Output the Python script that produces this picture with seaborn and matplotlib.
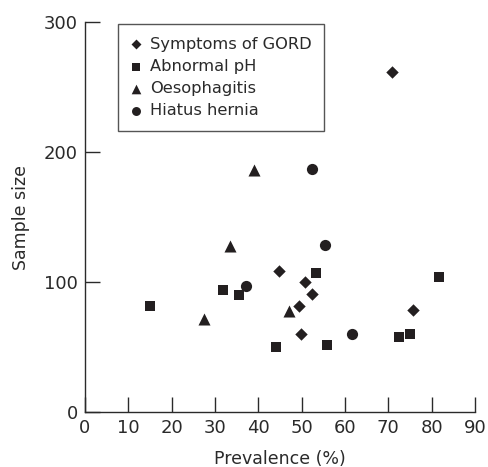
import matplotlib
matplotlib.use("Agg")
import matplotlib.pyplot as plt
import seaborn as sns
import pandas as pd

# Data
gord_x = [70.8, 44.8, 50.8, 52.3, 49.4, 49.8, 75.6]
gord_y = [261.5, 108.7, 100.5, 90.8, 81.8, 60.0, 78.5]

ph_x = [15.0, 31.8, 35.5, 44.1, 53.3, 55.8, 72.5, 74.9, 81.7]
ph_y = [81.8, 94.1, 90.2, 50.5, 107.4, 51.8, 57.9, 60.5, 104.0]

oes_x = [38.9, 33.4, 27.5, 47.1]
oes_y = [186.5, 127.5, 71.5, 78.0]

hh_x = [52.4, 55.3, 37.1, 61.7]
hh_y = [186.9, 128.7, 97.4, 60.0]

labels = ["Symptoms of GORD", "Abnormal pH", "Oesophagitis", "Hiatus hernia"]
x_ticks = [0, 10, 20, 30, 40, 50, 60, 70, 80, 90]
y_ticks = [0, 100, 200, 300]

frames = []
for lab, xs, ys in zip(labels, [gord_x, ph_x, oes_x, hh_x], [gord_y, ph_y, oes_y, hh_y]):
    frames.append(pd.DataFrame({"Prevalence": xs, "Sample": ys, "Group": lab}))
df = pd.concat(frames, ignore_index=True)

sns.set_style("white")
plt.rcParams["font.family"] = ["DejaVu Sans"]
ink = "#231f20"
txt = "#2a2a2a"

fig = plt.figure(figsize=(4.88, 4.67), dpi=100)
ax = fig.add_axes([85 / 488, 1 - 412.3 / 467, 390 / 488, 390.3 / 467])

markers = {labels[0]: "D", labels[1]: "s", labels[2]: "^", labels[3]: "o"}
sizes = {labels[0]: 40, labels[1]: 60, labels[2]: 75, labels[3]: 65}
for lab in labels:
    sub = df[df["Group"] == lab]
    sns.scatterplot(data=sub, x="Prevalence", y="Sample", marker=markers[lab],
                    s=sizes[lab], color=ink, edgecolor=ink, linewidth=0,
                    label=lab, ax=ax, legend=True)

ax.set_xlim(0, 90)
ax.set_ylim(0, 300)
ax.set_xticks(x_ticks)
ax.set_yticks(y_ticks)
ax.tick_params(axis="both", direction="in", length=11, width=1, color=txt,
               labelsize=13, labelcolor=txt, pad=5, left=True, bottom=True)
for side in ["top", "right"]:
    ax.spines[side].set_visible(False)
for side in ["left", "bottom"]:
    ax.spines[side].set_color(txt)
    ax.spines[side].set_linewidth(1)

ax.set_xlabel("Prevalence (%)", fontsize=12.5, color=txt, labelpad=9)
ax.set_ylabel("Sample size", fontsize=12.5, color=txt, labelpad=10)

leg = ax.legend(loc="upper left", bbox_to_anchor=(0.085, 0.994), frameon=True,
                fancybox=False, fontsize=11.7, handletextpad=0.45, borderpad=0.75,
                labelspacing=0.45, handlelength=0.75, borderaxespad=0,
                markerscale=0.8)
leg.get_frame().set_edgecolor(txt)
leg.get_frame().set_linewidth(1)
for t in leg.get_texts():
    t.set_color(txt)

fig.savefig("out.png", dpi=100)
